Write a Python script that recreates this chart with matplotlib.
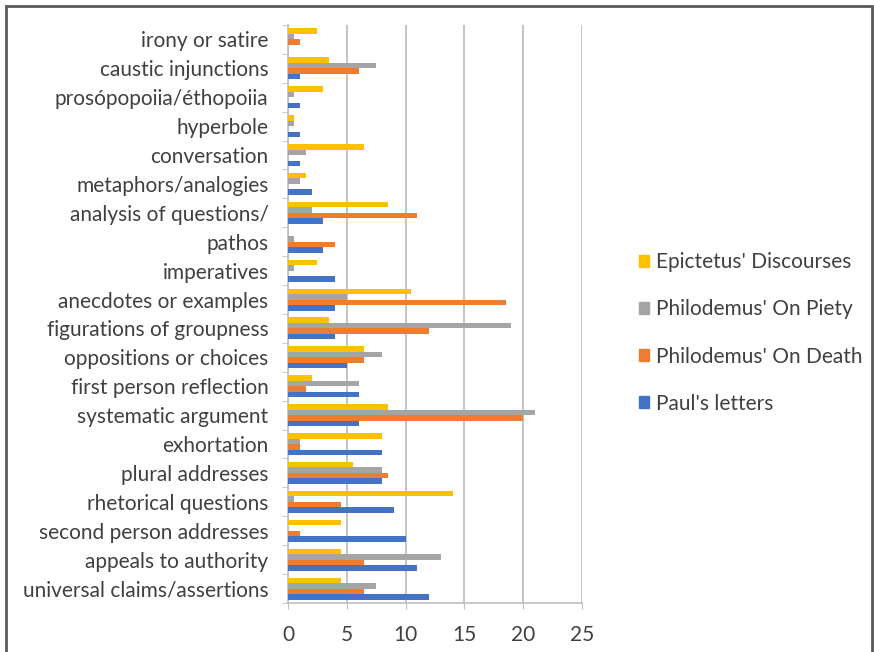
import numpy as np
import matplotlib
matplotlib.use("Agg")
import matplotlib.pyplot as plt
from matplotlib.patches import Rectangle, Patch

plt.rcParams['font.family'] = ['Lato', 'DejaVu Sans']

# categories, bottom to top
categories = ["universal claims/assertions", "appeals to authority", "second person addresses",
              "rhetorical questions", "plural addresses", "exhortation", "systematic argument",
              "first person reflection", "oppositions or choices", "figurations of groupness",
              "anecdotes or examples", "imperatives", "pathos", "analysis of questions/",
              "metaphors/analogies", "conversation", "hyperbole", "prosópopoiia/éthopoiia",
              "caustic injunctions", "irony or satire"]

paul =     [12, 11, 10, 9, 8, 8, 6, 6, 5, 4, 4, 4, 3, 3, 2, 1, 1, 1, 1, 0]
death =    [6.5, 6.5, 1, 4.5, 8.5, 1, 20, 1.5, 6.5, 12, 18.5, 0, 4, 11, 0, 0, 0, 0, 6, 1]
piety =    [7.5, 13, 0, 0.5, 8, 1, 21, 6, 8, 19, 5, 0.5, 0.5, 2, 1, 1.5, 0.5, 0.5, 7.5, 0.5]
epictetus = [4.5, 4.5, 4.5, 14, 5.5, 8, 8.5, 2, 6.5, 3.5, 10.5, 2.5, 0, 8.5, 1.5, 6.5, 0.5, 3, 3.5, 2.5]

series = [("Paul's letters", paul, '#4472C4'),
          ("Philodemus' On Death", death, '#ED7D31'),
          ("Philodemus' On Piety", piety, '#A5A5A5'),
          ("Epictetus' Discourses", epictetus, '#FFC000')]

fig = plt.figure(figsize=(8.74, 6.52), dpi=100)
ax = fig.add_axes([288/874, 1-603/652, (582-288)/874, (603-25)/652])

y = np.arange(len(categories))
h = 0.19
for i, (name, vals, col) in enumerate(series):
    ax.barh(y + (i - 1.5) * h, vals, height=h, color=col, label=name, zorder=3)

ax.set_xlim(0, 25)
ax.set_ylim(-0.5, len(categories) - 0.5)
ax.set_xticks([0, 5, 10, 15, 20, 25])
ax.set_yticks(y)
ax.set_yticklabels(categories)
ax.set_yticks(np.arange(-0.5, len(categories), 1), minor=True)
ax.tick_params(axis='y', which='major', length=0, pad=14, labelsize=15, labelcolor='#404040')
ax.tick_params(axis='y', which='minor', length=4, color='#BFBFBF')
ax.tick_params(axis='x', length=4, color='#BFBFBF', labelsize=15, labelcolor='#404040', pad=12)
ax.grid(axis='x', color='#BFBFBF', linewidth=1.3, zorder=0)
for s in ['top', 'right']:
    ax.spines[s].set_visible(False)
for s in ['left', 'bottom']:
    ax.spines[s].set_color('#BFBFBF')
    ax.spines[s].set_linewidth(1.2)

handles = [Patch(color=c) for _, _, c in series[::-1]]
labels = [n for n, _, _ in series[::-1]]
fig.legend(handles, labels, loc='center left', bbox_to_anchor=(620/874, 1-333/652),
           frameon=False, fontsize=15, handlelength=0.5, handleheight=0.5,
           handletextpad=0.35, labelspacing=1.3, labelcolor='#404040')

fig.add_artist(Rectangle((6/874, -0.05), 866/874, 1.05 - 6/652, transform=fig.transFigure,
                         fill=False, edgecolor='#595959', linewidth=2))

fig.savefig("out.png", dpi=100)
